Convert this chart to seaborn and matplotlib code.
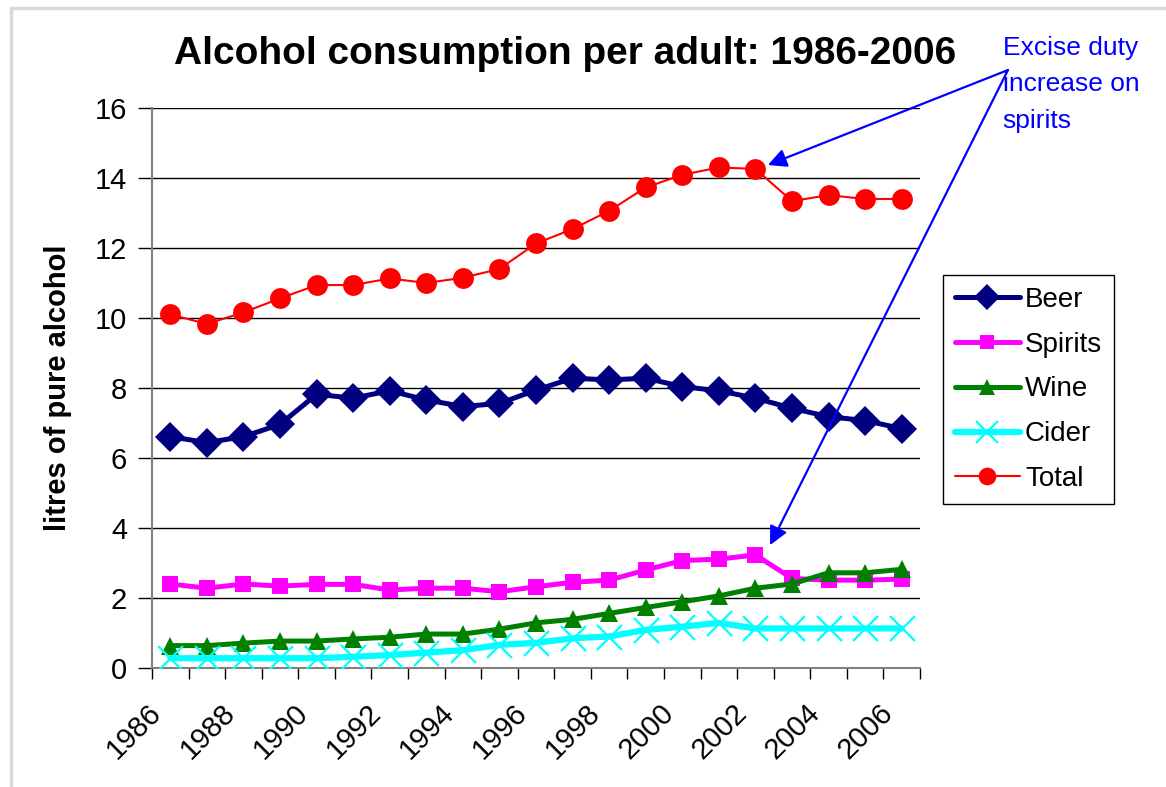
import matplotlib
matplotlib.use("Agg")
import matplotlib.pyplot as plt
import seaborn as sns
import pandas as pd
import numpy as np
from matplotlib.lines import Line2D
from matplotlib.transforms import ScaledTranslation

# Consumption data, litres of pure alcohol per adult
years = list(range(1986, 2007))
beer = [6.61, 6.44, 6.61, 6.96, 7.82, 7.71, 7.92, 7.66, 7.47, 7.56, 7.94,
        8.28, 8.23, 8.28, 8.04, 7.92, 7.71, 7.42, 7.18, 7.07, 6.84]
spirits = [2.40, 2.28, 2.40, 2.34, 2.39, 2.39, 2.23, 2.28, 2.28, 2.18, 2.32,
           2.45, 2.51, 2.80, 3.07, 3.11, 3.23, 2.56, 2.51, 2.51, 2.54]
wine = [0.64, 0.64, 0.71, 0.77, 0.77, 0.83, 0.88, 0.97, 0.97, 1.11, 1.29,
        1.39, 1.56, 1.73, 1.89, 2.06, 2.28, 2.40, 2.72, 2.72, 2.82]
cider = [0.28, 0.28, 0.28, 0.28, 0.28, 0.32, 0.37, 0.44, 0.51, 0.66, 0.72,
         0.85, 0.90, 1.09, 1.18, 1.29, 1.13, 1.13, 1.13, 1.13, 1.13]
total = [10.10, 9.83, 10.16, 10.56, 10.94, 10.94, 11.13, 11.00, 11.15, 11.40, 12.13,
         12.54, 13.06, 13.73, 14.09, 14.30, 14.26, 13.34, 13.51, 13.40, 13.40]

series_names = ["Beer", "Spirits", "Wine", "Cider", "Total"]
series_values = [beer, spirits, wine, cider, total]
y_ticks = [0, 2, 4, 6, 8, 10, 12, 14, 16]

styles = {
    "Beer":    dict(color="#000080", marker="D", lw=3.6, ms=15, mew=0),
    "Spirits": dict(color="#FF00FF", marker="s", lw=3.6, ms=12, mew=0),
    "Wine":    dict(color="#008000", marker="^", lw=3.6, ms=13, mew=0),
    "Cider":   dict(color="#00FFFF", marker="x", lw=4.5, ms=18, mew=1.6),
    "Total":   dict(color="#FF0000", marker="o", lw=1.5, ms=15, mew=0),
}

rows = []
for name, vals in zip(series_names, series_values):
    for i, (yr, v) in enumerate(zip(years, vals)):
        rows.append({"idx": i, "year": yr, "series": name, "value": v})
df = pd.DataFrame(rows)

sns.set_theme(style="white")
plt.rcParams["font.family"] = ["Liberation Sans", "DejaVu Sans"]
plt.rcParams.update({"text.color": "black", "axes.labelcolor": "black",
                     "xtick.color": "black", "ytick.color": "black"})

fig = plt.figure(figsize=(11.66, 7.87), dpi=100)
ax = fig.add_axes([0.1304, 0.1512, 0.6586, 0.7116])

handles = []
for name in series_names:
    st = styles[name]
    sub = df[df["series"] == name]
    sns.lineplot(data=sub, x="idx", y="value", ax=ax, color=st["color"],
                 linewidth=st["lw"], marker=st["marker"], markersize=st["ms"],
                 markeredgewidth=st["mew"], markeredgecolor=st["color"],
                 markerfacecolor=st["color"], legend=False, zorder=3)
    handles.append(Line2D([], [], color=st["color"], lw=st["lw"], marker=st["marker"],
                          markersize=st["ms"] * 0.85, markeredgewidth=st["mew"],
                          markeredgecolor=st["color"], markerfacecolor=st["color"]))

n = len(years)
ax.set_xlim(-0.5, n - 0.5)
ax.set_ylim(0, 16)
ax.set_yticks(y_ticks)
ax.set_yticklabels([str(t) for t in y_ticks], fontsize=21)
ax.yaxis.grid(True, color="black", linewidth=1.0)
ax.xaxis.grid(False)

# category boundaries carry the tick marks; labels sit on every other category
ax.set_xticks(np.arange(-0.5, n, 1.0), minor=True)
ax.set_xticks(np.arange(0, n, 2))
ax.set_xticklabels([str(y) for y in years[::2]], fontsize=21, rotation=45,
                   ha="right", rotation_mode="anchor")
ax.tick_params(axis="x", which="major", length=0, pad=22, bottom=True)
ax.tick_params(axis="x", which="minor", length=8, width=1, color="black",
               direction="out", bottom=True)
ax.tick_params(axis="y", which="major", length=10, width=1, color="black",
               direction="out", pad=8, left=True)
shift = ScaledTranslation(-16.5 / 72, 0, fig.dpi_scale_trans)
for tick in ax.xaxis.get_major_ticks():
    tick.label1.set_transform(tick.label1.get_transform() + shift)

for side in ["top", "right"]:
    ax.spines[side].set_visible(False)
for side in ["left", "bottom"]:
    ax.spines[side].set_color("#808080")
    ax.spines[side].set_linewidth(1.5)

ax.set_xlabel("")
ax.set_ylabel("litres of pure alcohol", fontsize=21, fontweight="bold")
ax.yaxis.set_label_coords(-0.104, 0.5)

fig.text(0.4846, 0.932, "Alcohol consumption per adult: 1986-2006",
         fontsize=28, fontweight="bold", ha="center", va="center")

leg = fig.legend(handles, series_names, loc="upper left",
                 bbox_to_anchor=(0.8087, 0.6506), bbox_transform=fig.transFigure,
                 borderaxespad=0, fancybox=False, framealpha=1, edgecolor="black",
                 fontsize=20, handlelength=2.35, handletextpad=0.18,
                 labelspacing=0.68, borderpad=0.42)
leg.get_frame().set_linewidth(1.0)

# note on the duty increase, with arrows to the total and spirits lines
fig.text(0.860, 0.954, "Excise duty\nincrease on\nspirits", color="blue",
         fontsize=19, ha="left", va="top", linespacing=1.64)
start = (1008 / 1166, 1 - 70 / 787)
for target in [(16.34, 14.37), (16.40, 3.51)]:
    ax.annotate("", xy=target, xycoords="data", xytext=start,
                textcoords="figure fraction",
                arrowprops=dict(arrowstyle="-|>", color="blue", lw=1.6,
                                mutation_scale=28, shrinkA=0, shrinkB=0),
                annotation_clip=False, zorder=5)

# light frame around the chart area
fig.add_artist(Line2D([11 / 1166, 1.0], [1 - 8 / 787, 1 - 8 / 787],
                      transform=fig.transFigure, color="#d9d9d9", lw=2.5))
fig.add_artist(Line2D([11 / 1166, 11 / 1166], [0.0, 1 - 8 / 787],
                      transform=fig.transFigure, color="#d9d9d9", lw=2.5))

fig.savefig("out.png", dpi=100, facecolor="white")
